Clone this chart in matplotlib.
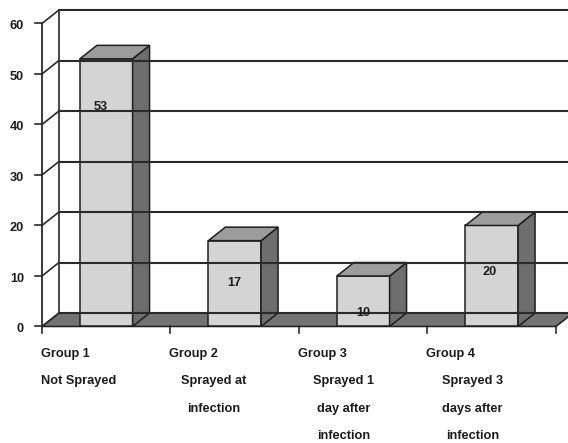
"""Column chart with an Excel-style 3-D look: share of infected plants per spray group."""

import matplotlib.pyplot as plt
from matplotlib.patches import Polygon

groups = ["Group 1", "Group 2", "Group 3", "Group 4"]
descriptions = [
    ["Not Sprayed"],
    ["Sprayed at", "infection"],
    ["Sprayed 1", "day after", "infection"],
    ["Sprayed 3", "days after", "infection"],
]
values = [53, 17, 10, 20]
y_ticks = [0, 10, 20, 30, 40, 50, 60]

# layout (data units: one category = 1.0 on x, value units on y)
DX, DY = 0.132, 2.67          # oblique depth offset of walls and columns
BAR_LEFT, BAR_W = 0.295, 0.41
LABEL_Y = [43.4, 8.7, 2.6, 10.7]
LABEL_NUDGE = [-0.04, 0.0, 0.0, -0.02]
DESC_X = [0.29, 0.34, 0.35, 0.35]
ROW_Y = [-5.45, -10.8, -16.3, -21.7]
FS = 9.2

FRONT = "#d4d4d4"
SIDE = "#6e6e6e"
TOP = "#9c9c9c"
FLOOR = "#737373"
EDGE = "#1e1e1e"
TEXT = "#1c1c1c"

plt.rcParams["font.family"] = ["Liberation Sans", "DejaVu Sans"]

fig = plt.figure(figsize=(5.68, 4.43), dpi=100)
ax = fig.add_axes([0, 0, 1, 1])
ax.set_xlim(-0.3268, 4.0934)
ax.set_ylim(-23.07, 64.65)
ax.axis("off")

n = len(values)
ymax = y_ticks[-1]


def poly(points, face):
    ax.add_patch(Polygon(points, closed=True, facecolor=face, edgecolor=EDGE,
                         linewidth=1.1, joinstyle="miter"))


# back wall gridlines and left wall diagonals
for v in y_ticks:
    ax.plot([DX, 4.3], [v + DY, v + DY], color="#2a2a2a", lw=1.5, solid_capstyle="butt")
    ax.plot([0, DX], [v, v + DY], color="#2a2a2a", lw=1.2)
    ax.plot([-0.055, 0], [v, v], color="#2a2a2a", lw=1.2)
    ax.text(-0.14, v - 0.5, str(v), ha="right", va="center", fontsize=FS,
            fontweight="bold", color=TEXT)
ax.plot([DX, DX], [DY, ymax + DY], color="#2a2a2a", lw=1.2)
ax.plot([0, 0], [0, ymax], color="#2a2a2a", lw=1.3)

# floor
poly([(0, 0), (n, 0), (n + DX, DY), (DX, DY)], FLOOR)

# category ticks
for i in range(n + 1):
    ax.plot([i, i], [0, -1.2], color="#2a2a2a", lw=1.2)

# columns
for i, v in enumerate(values):
    x0 = i + BAR_LEFT
    x1 = x0 + BAR_W
    poly([(x0, 0), (x1, 0), (x1, v), (x0, v)], FRONT)
    poly([(x1, 0), (x1 + DX, DY), (x1 + DX, v + DY), (x1, v)], SIDE)
    poly([(x0, v), (x1, v), (x1 + DX, v + DY), (x0 + DX, v + DY)], TOP)
    ax.text(x0 + BAR_W / 2 + LABEL_NUDGE[i], LABEL_Y[i], str(v), ha="center",
            va="center", fontsize=FS, fontweight="bold", color=TEXT)

# category labels
for i, (name, lines) in enumerate(zip(groups, descriptions)):
    ax.text(i - 0.01, ROW_Y[0], name, ha="left", va="center", fontsize=FS,
            fontweight="bold", color=TEXT)
    for j, line in enumerate(lines):
        if i == 0:
            ax.text(i - 0.01, ROW_Y[j + 1], line, ha="left", va="center",
                    fontsize=FS, fontweight="bold", color=TEXT)
        else:
            ax.text(i + DESC_X[i], ROW_Y[j + 1], line, ha="center", va="center",
                    fontsize=FS, fontweight="bold", color=TEXT)

fig.savefig("out.png", dpi=100)
